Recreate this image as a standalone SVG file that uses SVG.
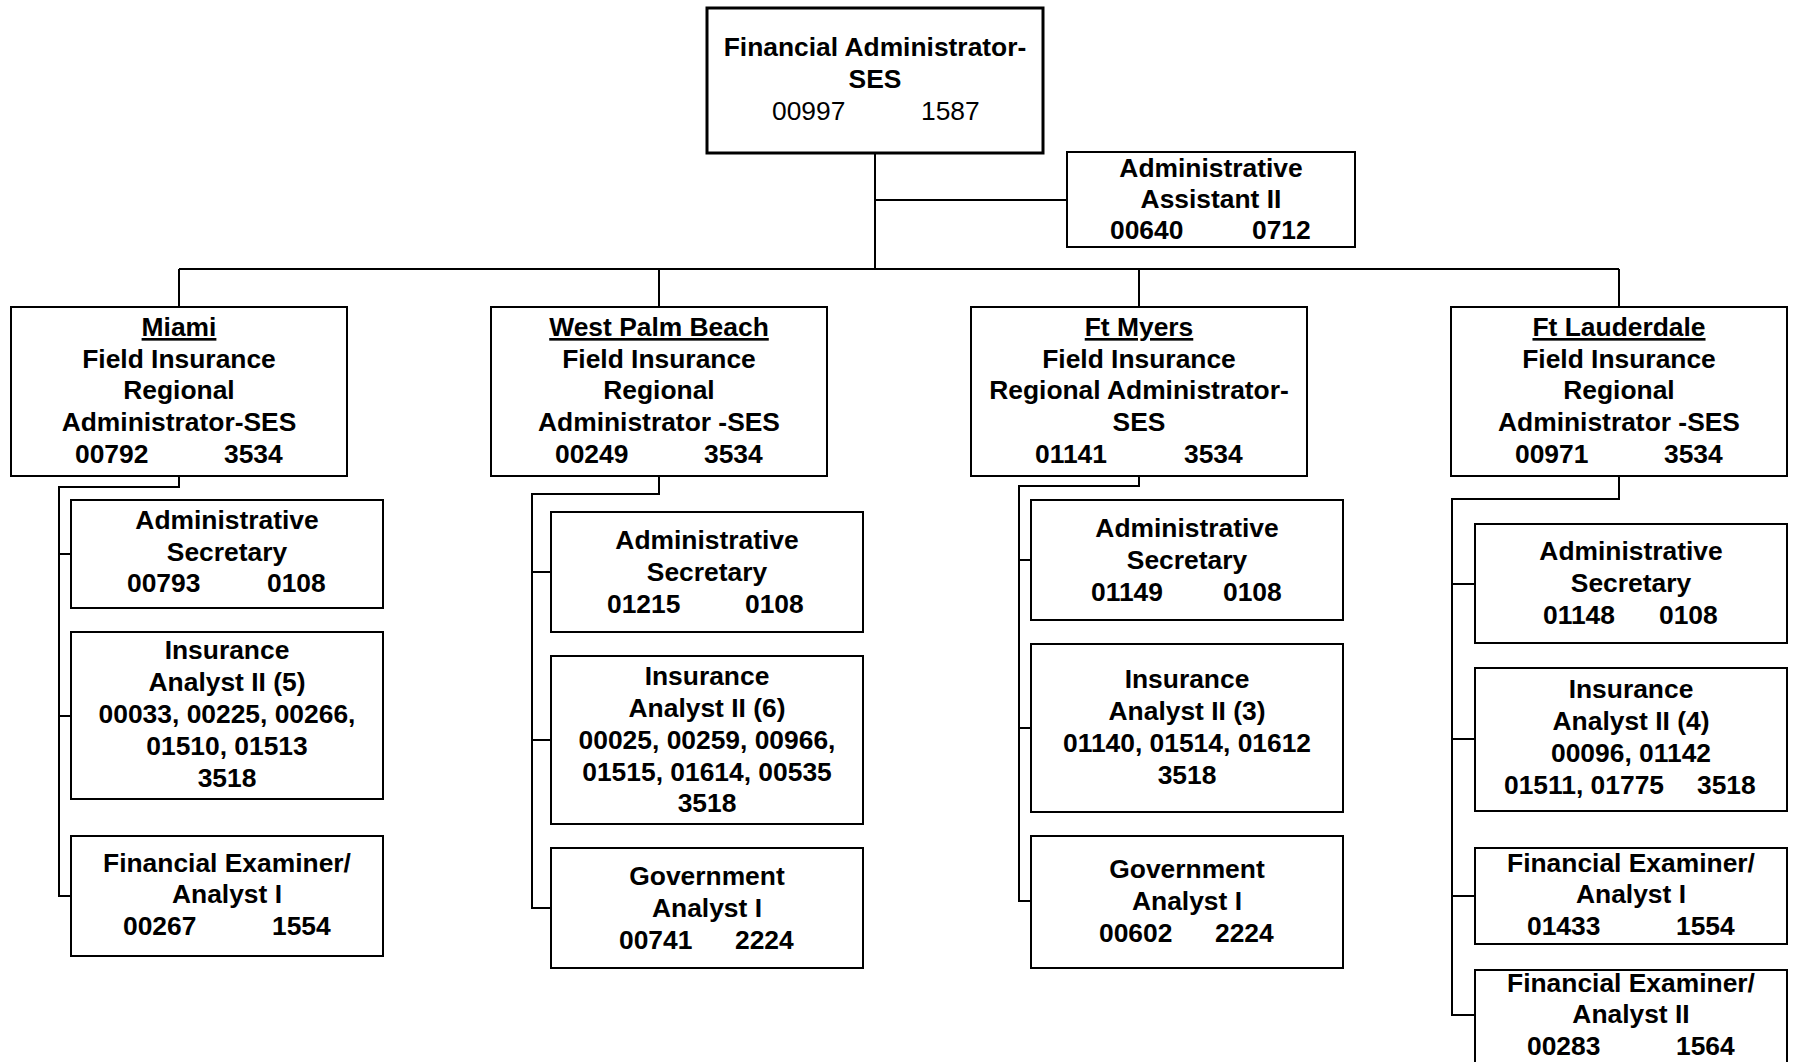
<svg xmlns="http://www.w3.org/2000/svg" width="1796" height="1062" viewBox="0 0 1796 1062">
  <style>
    .bg { fill: #ffffff; }
    .box { fill: #ffffff; stroke: #000000; stroke-width: 2; }
    .boss { fill: #ffffff; stroke: #000000; stroke-width: 3; }
    .wire { fill: none; stroke: #000000; stroke-width: 2; }
    text { font-family: "Liberation Sans", Arial, sans-serif; font-size: 26.4px; font-weight: bold; fill: #000000; }
    .c { text-anchor: middle; }
    .reg { font-weight: normal; }
    .u { text-decoration: underline; }
  </style>

  <rect class="bg" x="0" y="0" width="1796" height="1062"/>

  <!-- connectors -->
  <g id="connectors">
    <path class="wire" d="M875 153 V269"/>
    <path class="wire" d="M875 200 H1067"/>
    <path class="wire" d="M179 269 H1619"/>
    <path class="wire" d="M179 269 V307 M659 269 V307 M1139 269 V307 M1619 269 V307"/>
    <!-- Miami -->
    <path class="wire" d="M179 476 V487 H59 V896 H71 M59 554 H71 M59 716 H71"/>
    <!-- West Palm Beach -->
    <path class="wire" d="M659 476 V494 H532 V908 H551 M532 572 H551 M532 740 H551"/>
    <!-- Ft Myers -->
    <path class="wire" d="M1139 476 V486 H1019 V901 H1031 M1019 560 H1031 M1019 728 H1031"/>
    <!-- Ft Lauderdale -->
    <path class="wire" d="M1619 476 V499 H1452 V1015 H1475 M1452 584 H1475 M1452 739 H1475 M1452 896 H1475"/>
  </g>

  <!-- head of division -->
  <g id="financial-administrator">
    <rect class="boss" x="707" y="8" width="336" height="145"/>
    <text class="c" x="875" y="56">Financial Administrator-</text>
    <text class="c" x="875" y="88">SES</text>
    <text class="reg" x="772" y="120">00997</text>
    <text class="reg" x="921" y="120">1587</text>
  </g>

  <g id="administrative-assistant">
    <rect class="box" x="1067" y="152" width="288" height="95"/>
    <text class="c" x="1211" y="177">Administrative</text>
    <text class="c" x="1211" y="208">Assistant II</text>
    <text x="1110" y="239">00640</text>
    <text x="1252" y="239">0712</text>
  </g>

  <!-- Miami region -->
  <g id="miami">
    <rect class="box" x="11" y="307" width="336" height="169"/>
    <text class="c u" x="179" y="336">Miami</text>
    <text class="c" x="179" y="368">Field Insurance</text>
    <text class="c" x="179" y="399">Regional</text>
    <text class="c" x="179" y="431">Administrator-SES</text>
    <text x="75" y="463">00792</text>
    <text x="224" y="463">3534</text>
  </g>
  <g id="miami-admin-secretary">
    <rect class="box" x="71" y="500" width="312" height="108"/>
    <text class="c" x="227" y="529">Administrative</text>
    <text class="c" x="227" y="561">Secretary</text>
    <text x="127" y="592">00793</text>
    <text x="267" y="592">0108</text>
  </g>
  <g id="miami-insurance-analyst">
    <rect class="box" x="71" y="632" width="312" height="167"/>
    <text class="c" x="227" y="659">Insurance</text>
    <text class="c" x="227" y="691">Analyst II (5)</text>
    <text class="c" x="227" y="723">00033, 00225, 00266,</text>
    <text class="c" x="227" y="755">01510, 01513</text>
    <text class="c" x="227" y="787">3518</text>
  </g>
  <g id="miami-financial-examiner">
    <rect class="box" x="71" y="836" width="312" height="120"/>
    <text class="c" x="227" y="872">Financial Examiner/</text>
    <text class="c" x="227" y="903">Analyst I</text>
    <text x="123" y="935">00267</text>
    <text x="272" y="935">1554</text>
  </g>

  <!-- West Palm Beach region -->
  <g id="west-palm-beach">
    <rect class="box" x="491" y="307" width="336" height="169"/>
    <text class="c u" x="659" y="336">West Palm Beach</text>
    <text class="c" x="659" y="368">Field Insurance</text>
    <text class="c" x="659" y="399">Regional</text>
    <text class="c" x="659" y="431">Administrator -SES</text>
    <text x="555" y="463">00249</text>
    <text x="704" y="463">3534</text>
  </g>
  <g id="wpb-admin-secretary">
    <rect class="box" x="551" y="512" width="312" height="120"/>
    <text class="c" x="707" y="549">Administrative</text>
    <text class="c" x="707" y="581">Secretary</text>
    <text x="607" y="613">01215</text>
    <text x="745" y="613">0108</text>
  </g>
  <g id="wpb-insurance-analyst">
    <rect class="box" x="551" y="656" width="312" height="168"/>
    <text class="c" x="707" y="685">Insurance</text>
    <text class="c" x="707" y="717">Analyst II (6)</text>
    <text class="c" x="707" y="749">00025, 00259, 00966,</text>
    <text class="c" x="707" y="781">01515, 01614, 00535</text>
    <text class="c" x="707" y="812">3518</text>
  </g>
  <g id="wpb-government-analyst">
    <rect class="box" x="551" y="848" width="312" height="120"/>
    <text class="c" x="707" y="885">Government</text>
    <text class="c" x="707" y="917">Analyst I</text>
    <text x="619" y="949">00741</text>
    <text x="735" y="949">2224</text>
  </g>

  <!-- Ft Myers region -->
  <g id="ft-myers">
    <rect class="box" x="971" y="307" width="336" height="169"/>
    <text class="c u" x="1139" y="336">Ft Myers</text>
    <text class="c" x="1139" y="368">Field Insurance</text>
    <text class="c" x="1139" y="399">Regional Administrator-</text>
    <text class="c" x="1139" y="431">SES</text>
    <text x="1035" y="463">01141</text>
    <text x="1184" y="463">3534</text>
  </g>
  <g id="ftm-admin-secretary">
    <rect class="box" x="1031" y="500" width="312" height="120"/>
    <text class="c" x="1187" y="537">Administrative</text>
    <text class="c" x="1187" y="569">Secretary</text>
    <text x="1091" y="601">01149</text>
    <text x="1223" y="601">0108</text>
  </g>
  <g id="ftm-insurance-analyst">
    <rect class="box" x="1031" y="644" width="312" height="168"/>
    <text class="c" x="1187" y="688">Insurance</text>
    <text class="c" x="1187" y="720">Analyst II (3)</text>
    <text class="c" x="1187" y="752">01140, 01514, 01612</text>
    <text class="c" x="1187" y="784">3518</text>
  </g>
  <g id="ftm-government-analyst">
    <rect class="box" x="1031" y="836" width="312" height="132"/>
    <text class="c" x="1187" y="878">Government</text>
    <text class="c" x="1187" y="910">Analyst I</text>
    <text x="1099" y="942">00602</text>
    <text x="1215" y="942">2224</text>
  </g>

  <!-- Ft Lauderdale region -->
  <g id="ft-lauderdale">
    <rect class="box" x="1451" y="307" width="336" height="169"/>
    <text class="c u" x="1619" y="336">Ft Lauderdale</text>
    <text class="c" x="1619" y="368">Field Insurance</text>
    <text class="c" x="1619" y="399">Regional</text>
    <text class="c" x="1619" y="431">Administrator -SES</text>
    <text x="1515" y="463">00971</text>
    <text x="1664" y="463">3534</text>
  </g>
  <g id="ftl-admin-secretary">
    <rect class="box" x="1475" y="524" width="312" height="119"/>
    <text class="c" x="1631" y="560">Administrative</text>
    <text class="c" x="1631" y="592">Secretary</text>
    <text x="1543" y="624">01148</text>
    <text x="1659" y="624">0108</text>
  </g>
  <g id="ftl-insurance-analyst">
    <rect class="box" x="1475" y="668" width="312" height="143"/>
    <text class="c" x="1631" y="698">Insurance</text>
    <text class="c" x="1631" y="730">Analyst II (4)</text>
    <text class="c" x="1631" y="762">00096, 01142</text>
    <text x="1504" y="794">01511, 01775</text>
    <text x="1697" y="794">3518</text>
  </g>
  <g id="ftl-financial-examiner-1">
    <rect class="box" x="1475" y="848" width="312" height="96"/>
    <text class="c" x="1631" y="872">Financial Examiner/</text>
    <text class="c" x="1631" y="903">Analyst I</text>
    <text x="1527" y="935">01433</text>
    <text x="1676" y="935">1554</text>
  </g>
  <g id="ftl-financial-examiner-2">
    <rect class="box" x="1475" y="970" width="312" height="100"/>
    <text class="c" x="1631" y="992">Financial Examiner/</text>
    <text class="c" x="1631" y="1023">Analyst II</text>
    <text x="1527" y="1055">00283</text>
    <text x="1676" y="1055">1564</text>
  </g>
</svg>
